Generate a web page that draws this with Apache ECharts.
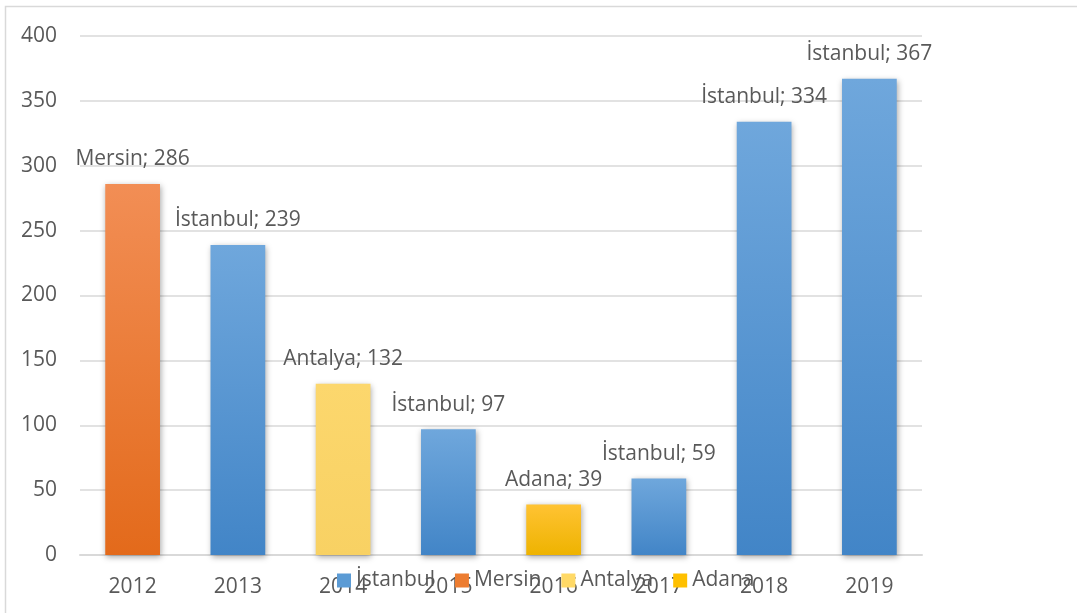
<!DOCTYPE html>
<html>
<head>
<meta charset="utf-8">
<script src="https://cdn.jsdelivr.net/npm/echarts@6/dist/echarts.min.js"></script>
<style>
  html, body { margin: 0; padding: 0; background: #fff; }
  #viz { width: 1077px; height: 613px; }
</style>
</head>
<body>
<div id="viz"></div>
<script>
const years = ['2012', '2013', '2014', '2015', '2016', '2017', '2018', '2019']
const istanbul = [null, 239, null, 97, null, 59, 334, 367]
const mersin = [286, null, null, null, null, null, null, null]
const antalya = [null, null, 132, null, null, null, null, null]
const adana = [null, null, null, null, 39, null, null, null]

const font = 'Open Sans'
const textColor = '#595959'

const grad = (top, bottom) =>
  new echarts.graphic.LinearGradient(0, 0, 0, 1, [
    { offset: 0, color: top },
    { offset: 1, color: bottom },
  ])

const makeSeries = (name, data, top, bottom, legendColor) => ({
  name,
  type: 'bar',
  stack: 'all',
  data,
  barWidth: '52%',
  itemStyle: {
    color: grad(top, bottom),
    shadowBlur: 6,
    shadowColor: 'rgba(0,0,0,0.35)',
    shadowOffsetX: 1,
    shadowOffsetY: 2,
  },
  label: {
    show: true,
    position: 'top',
    distance: 14,
    formatter: '{a}; {c}',
    color: textColor,
    fontFamily: font,
    fontSize: 21,
  },
  legendColor,
})

const series = [
  makeSeries('İstanbul', istanbul, '#6fa7dc', '#4285c7', '#5b9bd5'),
  makeSeries('Mersin', mersin, '#f28e55', '#e36a1b', '#ed7d31'),
  makeSeries('Antalya', antalya, '#fcd76d', '#f8d163', '#ffd966'),
  makeSeries('Adana', adana, '#ffc333', '#eeb300', '#ffc000'),
]

const myChart = echarts.init(document.getElementById('viz'))

myChart.setOption({
  animation: false,
  textStyle: { fontFamily: font },
  graphic: [
    {
      type: 'rect',
      shape: { x: 5.5, y: 6.5, width: 1090, height: 640 },
      style: { fill: 'none', stroke: '#d9d9d9', lineWidth: 1.5 },
      z: -1,
    },
  ],
  grid: { left: 80, right: 155, top: 36, bottom: 58 },
  legend: {
    top: 565,
    left: 332,
    itemWidth: 14,
    itemHeight: 14,
    itemGap: 20,
    icon: 'rect',
    textStyle: { color: textColor, fontSize: 21, fontFamily: font },
    data: series.map((s) => ({ name: s.name, itemStyle: { color: s.legendColor, shadowBlur: 0 } })),
  },
  xAxis: {
    type: 'category',
    data: years,
    axisLine: { lineStyle: { color: '#d9d9d9', width: 2 } },
    axisTick: { show: false },
    axisLabel: { color: textColor, fontSize: 21, fontFamily: font, margin: 22 },
  },
  yAxis: {
    type: 'value',
    min: 0,
    max: 400,
    interval: 50,
    axisLine: { show: false },
    axisTick: { show: false },
    splitLine: { lineStyle: { color: '#d9d9d9', width: 1.5 } },
    axisLabel: { color: textColor, fontSize: 21, fontFamily: font, margin: 23 },
  },
  series: series.map(({ legendColor, ...s }) => s),
})
</script>
</body>
</html>
